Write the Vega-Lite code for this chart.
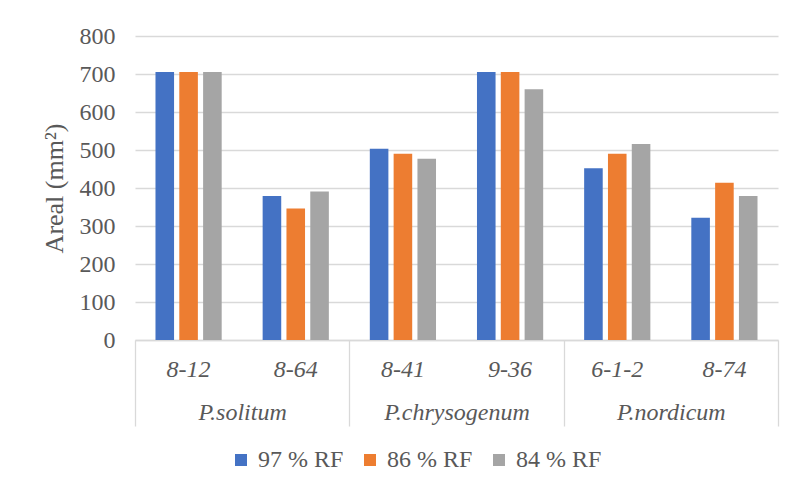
{
  "$schema": "https://vega.github.io/schema/vega-lite/v6.json",
  "width": 643,
  "height": 304,
  "autosize": {"type": "none"},
  "padding": {"left": 135, "top": 36, "right": 17, "bottom": 154},
  "background": "white",
  "config": {
    "view": {"stroke": null},
    "font": "Liberation Serif",
    "axis": {"labelColor": "#595959", "titleColor": "#595959", "labelFont": "Liberation Serif", "titleFont": "Liberation Serif"},
    "legend": {"labelColor": "#595959", "labelFont": "Liberation Serif"}
  },
  "data": {
    "values": [
      {"species": "P.solitum", "strain": "8-12", "series": "97 % RF", "value": 705},
      {"species": "P.solitum", "strain": "8-12", "series": "86 % RF", "value": 705},
      {"species": "P.solitum", "strain": "8-12", "series": "84 % RF", "value": 705},
      {"species": "P.solitum", "strain": "8-64", "series": "97 % RF", "value": 379},
      {"species": "P.solitum", "strain": "8-64", "series": "86 % RF", "value": 346},
      {"species": "P.solitum", "strain": "8-64", "series": "84 % RF", "value": 391},
      {"species": "P.chrysogenum", "strain": "8-41", "series": "97 % RF", "value": 503},
      {"species": "P.chrysogenum", "strain": "8-41", "series": "86 % RF", "value": 490},
      {"species": "P.chrysogenum", "strain": "8-41", "series": "84 % RF", "value": 477},
      {"species": "P.chrysogenum", "strain": "9-36", "series": "97 % RF", "value": 705},
      {"species": "P.chrysogenum", "strain": "9-36", "series": "86 % RF", "value": 705},
      {"species": "P.chrysogenum", "strain": "9-36", "series": "84 % RF", "value": 660},
      {"species": "P.nordicum", "strain": "6-1-2", "series": "97 % RF", "value": 452},
      {"species": "P.nordicum", "strain": "6-1-2", "series": "86 % RF", "value": 490},
      {"species": "P.nordicum", "strain": "6-1-2", "series": "84 % RF", "value": 516},
      {"species": "P.nordicum", "strain": "8-74", "series": "97 % RF", "value": 322},
      {"species": "P.nordicum", "strain": "8-74", "series": "86 % RF", "value": 414},
      {"species": "P.nordicum", "strain": "8-74", "series": "84 % RF", "value": 379}
    ]
  },
  "layer": [
    {
      "mark": {"type": "bar"},
      "encoding": {
        "x": {
          "field": "strain",
          "type": "nominal",
          "scale": {"domain": ["8-12", "8-64", "8-41", "9-36", "6-1-2", "8-74"], "paddingInner": 0, "paddingOuter": 0},
          "axis": {
            "title": null,
            "orient": "bottom",
            "labelAngle": 0,
            "labelFontSize": 24,
            "labelFontStyle": "italic",
            "labelPadding": 17,
            "ticks": false,
            "tickSize": 0,
            "domain": true,
            "domainColor": "#d9d9d9",
            "domainWidth": 1.3,
            "grid": false
          }
        },
        "xOffset": {
          "field": "series",
          "type": "nominal",
          "scale": {"domain": ["97 % RF", "86 % RF", "84 % RF"], "paddingInner": 0.22, "paddingOuter": 0.86}
        },
        "y": {
          "field": "value",
          "type": "quantitative",
          "scale": {"domain": [0, 800], "nice": false},
          "axis": {
            "title": "Areal (mm²)",
            "titleFontSize": 26,
            "titleFontWeight": "normal",
            "titlePadding": 12,
            "values": [0, 100, 200, 300, 400, 500, 600, 700, 800],
            "labelFontSize": 24,
            "labelPadding": 20,
            "ticks": false,
            "tickSize": 0,
            "domain": false,
            "grid": true,
            "gridColor": "#d9d9d9",
            "gridWidth": 1.3
          }
        },
        "color": {
          "field": "series",
          "type": "nominal",
          "scale": {"domain": ["97 % RF", "86 % RF", "84 % RF"], "range": ["#4472c4", "#ed7d31", "#a5a5a5"]},
          "legend": {
            "title": null,
            "orient": "none",
            "direction": "horizontal",
            "legendX": 94,
            "legendY": 412,
            "padding": 0,
            "symbolType": "square",
            "symbolSize": 144,
            "symbolStrokeWidth": 0,
            "labelFontSize": 24,
            "labelOffset": 5,
            "columnPadding": 14
          }
        }
      }
    },
    {
      "mark": {"type": "rule", "strokeOpacity": 0},
      "encoding": {
        "x": {
          "field": "species",
          "type": "nominal",
          "scale": {"type": "band", "domain": ["P.solitum", "P.chrysogenum", "P.nordicum"], "paddingInner": 0, "paddingOuter": 0},
          "axis": {
            "title": null,
            "orient": "bottom",
            "labelAngle": 0,
            "labelFontSize": 24,
            "labelFontStyle": "italic",
            "labelPadding": -26,
            "ticks": true,
            "tickBand": "extent",
            "tickSize": 86,
            "tickColor": "#d9d9d9",
            "tickWidth": 1.3,
            "domain": false,
            "grid": false
          }
        }
      }
    }
  ],
  "resolve": {"scale": {"x": "independent"}, "axis": {"x": "independent"}}
}
